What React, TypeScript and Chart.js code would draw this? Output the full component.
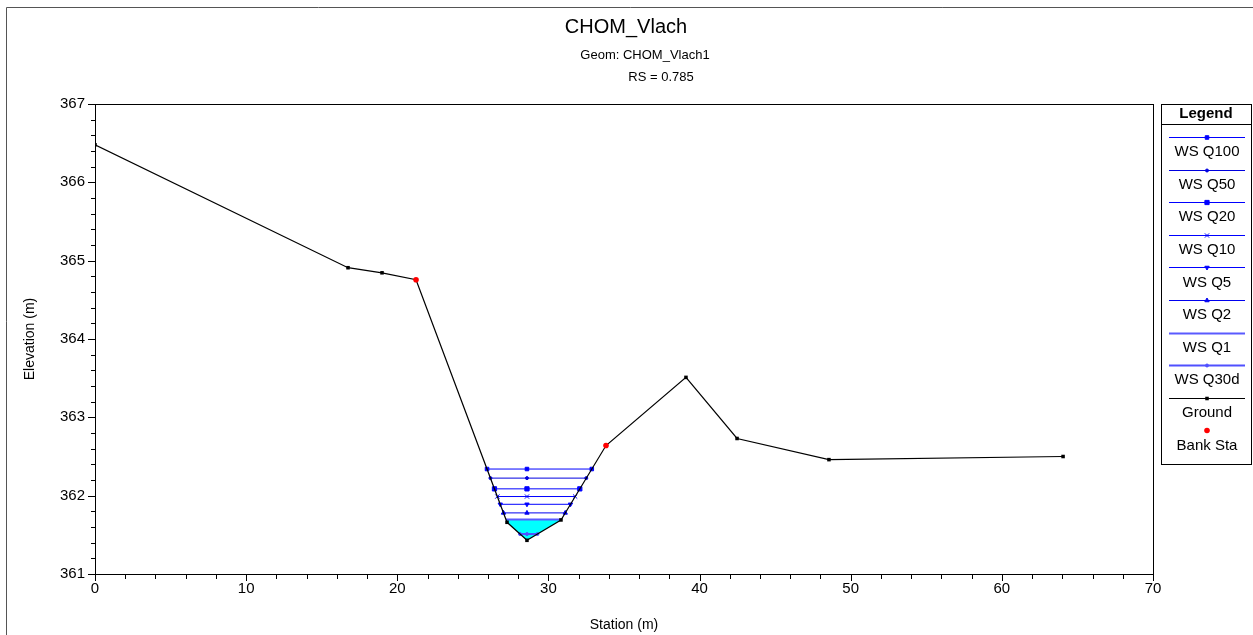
import React, { useEffect, useRef } from "react";
import { Chart, registerables } from "chart.js";
import { drawPoint } from "chart.js/helpers";

Chart.register(...registerables);

const titleText = "CHOM_Vlach";
const geomText = "Geom: CHOM_Vlach1";
const rsText = "RS = 0.785";
const xTitle = "Station (m)";
const yTitle = "Elevation (m)";

const groundStations = [0, 16.74, 18.99, 21.24, 27.26, 28.58, 30.83, 33.81, 39.1, 42.48, 48.56, 64.05];
const groundElevations = [366.48, 364.91, 364.845, 364.756, 361.66, 361.43, 361.69, 362.64, 363.51, 362.73, 362.46, 362.5];
const bankStations = [21.24, 33.81];
const bankElevations = [364.756, 362.64];

const profileNames = ["WS Q100", "WS Q50", "WS Q20", "WS Q10", "WS Q5", "WS Q2", "WS Q1", "WS Q30d"];
const wsElevations = [362.34, 362.224, 362.087, 361.989, 361.89, 361.78, 361.695, 361.51];
const profileColors = ["#0000ff", "#0000e0", "#0000ff", "#0000ff", "#0000ff", "#0000f0", "#5a5aff", "#5050ff"];
const profileWidths = [1, 1, 1, 1, 1, 1, 2, 2];
const profileMarkers = ["rect", "circle", "rect", "crossRot", "triangle", "triangle", false, "circle"];
const profileMarkerRot = [0, 0, 0, 0, 180, 0, 0, 0];
const profileMarkerSize = [2.5, 1.5, 3, 3, 2.5, 2.5, 0, 1.5];
const filledProfile = "WS Q1";

const xTicksMajor = [0, 10, 20, 30, 40, 50, 60, 70];
const yTicksMajor = [361, 362, 363, 364, 365, 366, 367];

const FONT = "'Liberation Sans', Arial, sans-serif";

function thalwegIndex() {
  let m = 0;
  groundElevations.forEach((e, i) => {
    if (e < groundElevations[m]) m = i;
  });
  return m;
}

function wsExtent(ws: number) {
  const m = thalwegIndex();
  let left = { x: groundStations[m], i: m };
  for (let j = m; j > 0; j--) {
    const a = groundElevations[j - 1];
    const b = groundElevations[j];
    if (a >= ws && b <= ws) {
      const t = (a - ws) / (a - b);
      left = { x: groundStations[j - 1] + t * (groundStations[j] - groundStations[j - 1]), i: j };
      break;
    }
  }
  let right = { x: groundStations[m], i: m };
  for (let j = m; j < groundStations.length - 1; j++) {
    const a = groundElevations[j];
    const b = groundElevations[j + 1];
    if (a <= ws && b >= ws) {
      const t = (ws - a) / (b - a);
      right = { x: groundStations[j] + t * (groundStations[j + 1] - groundStations[j]), i: j };
      break;
    }
  }
  return { left, right, center: groundStations[m] };
}

export default function App() {
  const ref = useRef<HTMLCanvasElement>(null);

  useEffect(() => {
    document.body.style.margin = "0";
    const canvas = ref.current!;
    const datasets: any[] = [];

    const fi = profileNames.indexOf(filledProfile);
    const fws = wsElevations[fi];
    const fe = wsExtent(fws);
    const fillData: any[] = [{ x: fe.left.x, y: fws }];
    for (let k = fe.left.i; k <= fe.right.i; k++) fillData.push({ x: groundStations[k], y: groundElevations[k] });
    fillData.push({ x: fe.right.x, y: fws });
    datasets.push({
      label: "fill",
      data: fillData,
      borderWidth: 0,
      borderColor: "transparent",
      backgroundColor: "#00ffff",
      pointRadius: 0,
      fill: { value: fws },
      order: 5,
    });

    profileNames.forEach((name, i) => {
      const ws = wsElevations[i];
      const e = wsExtent(ws);
      datasets.push({
        label: name,
        data: [
          { x: e.left.x, y: ws },
          { x: e.center, y: ws },
          { x: e.right.x, y: ws },
        ],
        borderColor: profileColors[i],
        backgroundColor: profileColors[i],
        borderWidth: profileWidths[i],
        pointStyle: profileMarkers[i],
        pointRadius: profileMarkerSize[i],
        pointRotation: profileMarkerRot[i],
        pointBorderWidth: 1,
        fill: false,
        order: 3,
      });
    });

    datasets.push({
      label: "Ground",
      data: groundStations.map((x, i) => ({ x, y: groundElevations[i] })),
      borderColor: "#000",
      backgroundColor: "#000",
      borderWidth: 1.2,
      pointStyle: "rect",
      pointRadius: 2.5,
      pointBorderWidth: 0,
      fill: false,
      order: 1,
    });

    datasets.push({
      label: "Bank Sta",
      data: bankStations.map((x, i) => ({ x, y: bankElevations[i] })),
      showLine: false,
      borderColor: "#ff0000",
      backgroundColor: "#ff0000",
      pointStyle: "circle",
      pointRadius: 2.8,
      pointBorderWidth: 0,
      order: 0,
    });

    const decor = {
      id: "decor",
      afterDraw(chart: any) {
        const ctx = chart.ctx as CanvasRenderingContext2D;
        const ca = chart.chartArea;
        const xs = chart.scales.x;
        const ys = chart.scales.y;
        ctx.save();
        ctx.strokeStyle = "#555";
        ctx.lineWidth = 1;
        ctx.beginPath();
        ctx.moveTo(6.5, 640);
        ctx.lineTo(6.5, 7.5);
        ctx.lineTo(1260, 7.5);
        ctx.stroke();

        ctx.strokeStyle = "#000";
        ctx.strokeRect(Math.round(ca.left) + 0.5, Math.round(ca.top) + 0.5, Math.round(ca.right - ca.left), Math.round(ca.bottom - ca.top));

        ctx.beginPath();
        for (let v = 0; v <= 70 + 1e-9; v += 2) {
          const px = Math.round(xs.getPixelForValue(v)) + 0.5;
          const major = xTicksMajor.some((t) => Math.abs(t - v) < 1e-6);
          ctx.moveTo(px, ca.bottom);
          ctx.lineTo(px, ca.bottom + (major ? 7 : 5));
        }
        for (let k = 0; k <= 30; k++) {
          const v = 361 + k * 0.2;
          const py = Math.round(ys.getPixelForValue(v)) + 0.5;
          const major = yTicksMajor.some((t) => Math.abs(t - v) < 1e-6);
          ctx.moveTo(ca.left, py);
          ctx.lineTo(ca.left - (major ? 7 : 4), py);
        }
        ctx.stroke();

        ctx.fillStyle = "#000";
        ctx.textAlign = "center";
        ctx.textBaseline = "middle";
        ctx.font = `20px ${FONT}`;
        ctx.fillText(titleText, 626, 27);
        ctx.font = `13px ${FONT}`;
        ctx.fillText(geomText, 645, 55);
        ctx.fillText(rsText, 661, 77);

        ctx.font = `14px ${FONT}`;
        ctx.fillText(xTitle, (ca.left + ca.right) / 2, 625);
        ctx.save();
        ctx.translate(30, (ca.top + ca.bottom) / 2);
        ctx.rotate(-Math.PI / 2);
        ctx.fillText(yTitle, 0, 0);
        ctx.restore();

        const lx0 = 1161, lx1 = 1251, ly0 = 104, ly1 = 464;
        ctx.strokeStyle = "#000";
        ctx.lineWidth = 1;
        ctx.strokeRect(lx0 + 0.5, ly0 + 0.5, lx1 - lx0, ly1 - ly0);
        ctx.beginPath();
        ctx.moveTo(lx0, 124.5);
        ctx.lineTo(lx1, 124.5);
        ctx.stroke();
        ctx.fillStyle = "#000";
        ctx.font = `bold 15px ${FONT}`;
        ctx.fillText("Legend", (lx0 + lx1) / 2, 114);
        const cx = (lx0 + lx1) / 2 + 1;
        const entries = datasets.filter((d) => d.label !== "fill");
        entries.forEach((d, i) => {
          const lineY = 137 + i * 32.6;
          const py = Math.round(lineY) + 0.5;
          if (d.showLine !== false) {
            ctx.strokeStyle = d.borderColor;
            ctx.lineWidth = d.borderWidth;
            ctx.beginPath();
            ctx.moveTo(1169, py);
            ctx.lineTo(1245, py);
            ctx.stroke();
          }
          if (d.pointStyle && d.pointRadius > 0) {
            ctx.fillStyle = d.backgroundColor;
            ctx.strokeStyle = d.borderColor;
            ctx.lineWidth = d.pointBorderWidth ?? 1;
            drawPoint(ctx, {
              pointStyle: d.pointStyle,
              radius: d.pointRadius,
              rotation: d.pointRotation || 0,
              borderWidth: d.pointBorderWidth ?? 1,
            } as any, cx, py);
          }
          ctx.fillStyle = "#000";
          ctx.font = `15px ${FONT}`;
          ctx.fillText(d.label, cx, lineY + 15);
        });
        ctx.restore();
      },
    };

    const chart = new Chart(canvas, {
      type: "line",
      data: { datasets },
      options: {
        responsive: false,
        animation: false,
        devicePixelRatio: 1,
        parsing: false as any,
        layout: { padding: { left: 0, top: 104, right: 100, bottom: 0 } },
        plugins: { legend: { display: false }, title: { display: false }, tooltip: { enabled: false } },
        scales: {
          x: {
            type: "linear",
            min: 0,
            max: 70,
            afterFit: (s: any) => { s.height = 61; },
            afterBuildTicks: (s: any) => { s.ticks = xTicksMajor.map((v) => ({ value: v })); },
            ticks: { color: "#000", font: { family: FONT, size: 15 }, padding: 6, maxRotation: 0 },
            grid: { display: true, color: "transparent", drawTicks: false },
            border: { display: true, color: "#000", width: 1 },
          },
          y: {
            type: "linear",
            min: 361,
            max: 367,
            afterFit: (s: any) => { s.width = 95; },
            afterBuildTicks: (s: any) => { s.ticks = yTicksMajor.map((v) => ({ value: v })); },
            ticks: { color: "#000", font: { family: FONT, size: 15 }, padding: 10 },
            grid: { display: true, color: "transparent", drawTicks: false },
            border: { display: true, color: "#000", width: 1 },
          },
        },
      } as any,
      plugins: [decor],
    });
    return () => chart.destroy();
  }, []);

  return (
    <div style={{ position: "fixed", left: 0, top: 0, width: 1253, height: 635, background: "#fff" }}>
      <canvas ref={ref} width={1253} height={635} style={{ width: 1253, height: 635, display: "block" }} />
    </div>
  );
}
